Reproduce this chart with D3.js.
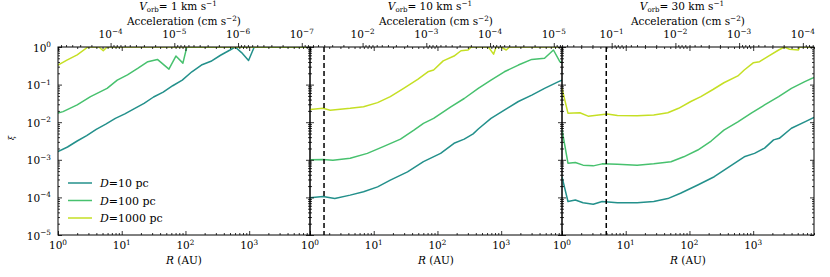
<!DOCTYPE html>
<html>
<head>
<meta charset="utf-8">
<script src="https://cdn.jsdelivr.net/npm/d3@7"></script>
<style>
  body { margin: 0; background: #fff; }
  text { font-family: "DejaVu Serif", serif; fill: #000; }
</style>
</head>
<body>
<div id="chart"></div>
<script>
// orbital velocity of each panel (km/s) and radius of the dashed marker (AU)
const velocities = [1, 10, 30];
const dashedR = [null, 1.66, 4.95];
const distances = ["10", "100", "1000"];
const colors = ["#23908b", "#47c16e", "#c5df24"];

const rTicks = [1, 10, 100, 1000];
const xiTicks = [1, 1e-1, 1e-2, 1e-3, 1e-4, 1e-5];
const accelExps = [[-4, -5, -6, -7], [-2, -3, -4, -5], [-1, -2, -3, -4]];

// [R (AU), xi]
const v1_d10 = [[1, 1.66e-3], [1.41, 2.19e-3], [2.0, 3.16e-3], [2.82, 4.37e-3], [3.98, 6.46e-3], [5.62, 8.91e-3],
  [7.94, 0.0126], [11.2, 0.0166], [15.8, 0.0229], [22.4, 0.0316], [31.6, 0.0468], [44.7, 0.0631], [63.1, 0.0933],
  [89.1, 0.132], [126, 0.219], [178, 0.331], [251, 0.417], [355, 0.603], [501, 0.832], [603, 1], [759, 0.71],
  [977, 0.437], [1200, 1], [9000, 1]];
const v1_d100 = [[1, 0.0174], [1.2, 0.0191], [2.0, 0.0288], [3.24, 0.0479], [5.89, 0.0794], [8.51, 0.132],
  [12.3, 0.182], [17.8, 0.269], [25.7, 0.407], [36.3, 0.468], [55.0, 0.257], [70.8, 0.575], [91.2, 0.372],
  [105, 1], [9000, 1]];
const v1_d1000 = [[1, 0.331], [1.38, 0.447], [2.0, 0.617], [2.95, 1], [4.37, 1], [5.13, 0.794], [5.89, 1], [9000, 1]];

const v10_d10 = [[1, 9.8e-5], [1.6, 1.05e-4], [2.45, 9.3e-5], [4.27, 1.15e-4], [6.92, 1.41e-4], [11.5, 1.91e-4],
  [18.2, 2.88e-4], [33.9, 4.79e-4], [60.3, 8.91e-4], [112, 1.48e-3], [182, 2.75e-3], [263, 3.55e-3], [363, 4.9e-3],
  [437, 6.6e-3], [692, 0.0126], [1120, 0.0209], [1860, 0.0355], [3020, 0.0525], [4790, 0.0794], [7940, 0.120],
  [9000, 0.132]];
const v10_d100 = [[1, 1.0e-3], [1.6, 1.02e-3], [2.29, 9.8e-4], [4.27, 1.1e-3], [7.94, 1.48e-3], [14.1, 2.24e-3],
  [26.3, 3.55e-3], [42.7, 6.17e-3], [60.3, 9.33e-3], [87.1, 0.0126], [162, 0.0257], [263, 0.0427], [437, 0.0794],
  [692, 0.132], [1120, 0.219], [1860, 0.331], [3020, 0.468], [4790, 0.501], [6610, 0.832], [8320, 0.407],
  [9000, 0.389]];
const v10_d1000 = [[1, 0.0219], [1.6, 0.0234], [2.07, 0.0209], [4.27, 0.0234], [6.92, 0.0257], [11.5, 0.0331],
  [18.2, 0.0479], [29.5, 0.0794], [49.0, 0.138], [70.8, 0.219], [87.1, 0.245], [123, 0.427], [182, 0.575],
  [234, 0.794], [302, 0.832], [339, 1], [631, 1], [759, 0.646], [832, 1], [1000, 1], [1200, 0.832], [1350, 1],
  [9000, 1]];

const v30_d10 = [[1, 3.5e-4], [1.24, 7.8e-5], [1.62, 8.5e-5], [2.14, 7.2e-5], [3.09, 6.6e-5], [4.27, 7.8e-5],
  [7.41, 7.2e-5], [15.1, 7.2e-5], [27.5, 7.8e-5], [45.7, 9.3e-5], [72.4, 1.29e-4], [135, 2.14e-4], [245, 3.55e-4],
  [407, 6.3e-4], [724, 1.2e-3], [1050, 1.48e-3], [1510, 2.04e-3], [2090, 3.39e-3], [2570, 3.72e-3],
  [3980, 6.9e-3], [6460, 0.0102], [9000, 0.0135]];
const v30_d100 = [[1, 6.3e-3], [1.24, 8.1e-4], [1.62, 8.5e-4], [2.14, 7.2e-4], [3.09, 6.9e-4], [4.27, 7.8e-4],
  [7.41, 7.6e-4], [15.1, 7.2e-4], [27.5, 7.8e-4], [51.3, 8.9e-4], [81.3, 1.2e-3], [135, 1.82e-3], [219, 3.16e-3],
  [347, 6.17e-3], [575, 0.0102], [933, 0.0174], [1510, 0.0288], [2510, 0.0479], [3980, 0.0794], [6460, 0.120],
  [9000, 0.155]];
const v30_d1000 = [[1, 0.0794], [1.24, 0.0174], [1.91, 0.0178], [2.57, 0.0145], [5.13, 0.0166], [7.41, 0.0151],
  [15.1, 0.0148], [27.5, 0.0155], [45.7, 0.0178], [67.6, 0.0234], [105, 0.0355], [151, 0.0479], [234, 0.0741],
  [347, 0.112], [575, 0.170], [724, 0.245], [1000, 0.380], [1260, 0.407], [1740, 0.575], [2510, 0.832],
  [3090, 1], [3720, 0.871], [5130, 0.832], [5370, 1], [9000, 1]];

const panelSeries = [
  [v1_d10, v1_d100, v1_d1000],
  [v10_d10, v10_d100, v10_d1000],
  [v30_d10, v30_d100, v30_d1000]
];

const W = 830, H = 277;
const marginLeft = 58, marginTop = 47, pw = 252, ph = 188;
const rMax = 9000;
const accel1AU = 6.685e-4; // cm s^-2 for V = 1 km/s at R = 1 AU
const fs = 10.5, tickFs = 10.5, supFs = 7.3;

const svg = d3.select("#chart").append("svg")
    .attr("width", W)
    .attr("height", H);

svg.append("rect").attr("width", W).attr("height", H).attr("fill", "#fff");

let x = d3.scaleLog().domain([1, rMax]).range([0, pw]);
let y = d3.scaleLog().domain([1e-5, 1]).range([ph, 0]);

let notDecade = d => Math.abs(Math.log10(d) - Math.round(Math.log10(d))) > 1e-6;

// "10" with a superscript exponent
let powLabel = function (sel, exp) {
    sel.each(function (e) {
        let t = d3.select(this);
        let ex = exp(e);
        t.append("tspan").text("10");
        t.append("tspan")
            .attr("dy", -4.5)
            .attr("font-size", supFs)
            .text(ex < 0 ? "\u2212" + (-ex) : ex);
    });
};

let line = d3.line()
    .x(d => x(d[0]))
    .y(d => y(d[1]));

velocities.forEach(function (v, i) {
    let g = svg.append("g")
        .attr("transform", "translate(" + (marginLeft + i * pw) + "," + marginTop + ")");

    g.append("defs").append("clipPath")
        .attr("id", "clip" + i)
        .append("rect")
        .attr("width", pw)
        .attr("height", ph);

    let plot = g.append("g").attr("clip-path", "url(#clip" + i + ")");

    panelSeries[i].forEach(function (s, k) {
        plot.append("path")
            .datum(s)
            .attr("fill", "none")
            .attr("stroke", colors[k])
            .attr("stroke-width", 1.5)
            .attr("stroke-linejoin", "round")
            .attr("d", line);
    });

    if (dashedR[i]) {
        plot.append("line")
            .attr("x1", x(dashedR[i])).attr("x2", x(dashedR[i]))
            .attr("y1", 0).attr("y2", ph)
            .attr("stroke", "#000")
            .attr("stroke-width", 1.5)
            .attr("stroke-dasharray", "5,3");
    }

    // acceleration axis on top: a = V^2 / R
    let a = d3.scaleLog()
        .domain([accel1AU * v * v, accel1AU * v * v / rMax])
        .range([0, pw]);
    let aMajor = accelExps[i].map(e => Math.pow(10, e));
    let aMinor = a.ticks().filter(notDecade);
    let xMinor = x.ticks().filter(notDecade);
    let yMinor = y.ticks().filter(notDecade);

    let axes = g.append("g");
    let addAxis = function (axis, tr) {
        let ag = axes.append("g").attr("transform", tr || null).call(axis.tickFormat("").tickSizeOuter(0));
        ag.select(".domain").remove();
        ag.selectAll("line").attr("stroke", "#000").attr("stroke-width", 0.8);
    };
    addAxis(d3.axisBottom(x).tickValues(rTicks).tickSize(-4), "translate(0," + ph + ")");
    addAxis(d3.axisBottom(x).tickValues(xMinor).tickSize(-2), "translate(0," + ph + ")");
    addAxis(d3.axisTop(x).tickValues(rTicks).tickSize(-4));
    addAxis(d3.axisTop(x).tickValues(xMinor).tickSize(-2));
    addAxis(d3.axisTop(a).tickValues(aMajor).tickSize(4));
    addAxis(d3.axisTop(a).tickValues(aMinor).tickSize(2));
    addAxis(d3.axisLeft(y).tickValues(xiTicks).tickSize(-4));
    addAxis(d3.axisLeft(y).tickValues(yMinor).tickSize(-2));
    addAxis(d3.axisRight(y).tickValues(xiTicks).tickSize(-4), "translate(" + pw + ",0)");
    addAxis(d3.axisRight(y).tickValues(yMinor).tickSize(-2), "translate(" + pw + ",0)");

    g.append("rect")
        .attr("width", pw)
        .attr("height", ph)
        .attr("fill", "none")
        .attr("stroke", "#000")
        .attr("stroke-width", 1);

    // bottom tick labels
    g.selectAll(".rlab")
        .data(rTicks)
        .enter().append("text")
        .attr("class", "rlab")
        .attr("x", d => x(d))
        .attr("y", ph + 14)
        .attr("text-anchor", "middle")
        .attr("font-size", tickFs)
        .call(powLabel, d => Math.round(Math.log10(d)));

    // top tick labels
    g.selectAll(".alab")
        .data(aMajor)
        .enter().append("text")
        .attr("class", "alab")
        .attr("x", d => a(d))
        .attr("y", -9)
        .attr("text-anchor", "middle")
        .attr("font-size", tickFs)
        .call(powLabel, d => Math.round(Math.log10(d)));

    if (i === 0) {
        g.selectAll(".ylab")
            .data(xiTicks)
            .enter().append("text")
            .attr("class", "ylab")
            .attr("x", -7)
            .attr("y", d => y(d) + 4.5)
            .attr("text-anchor", "end")
            .attr("font-size", tickFs)
            .call(powLabel, d => Math.round(Math.log10(d)));
    }

    let xl = g.append("text")
        .attr("x", pw / 2)
        .attr("y", ph + 29)
        .attr("text-anchor", "middle")
        .attr("font-size", fs);
    xl.append("tspan").attr("font-style", "italic").text("R");
    xl.append("tspan").text(" (AU)");

    let al = g.append("text")
        .attr("x", pw / 2)
        .attr("y", -22)
        .attr("text-anchor", "middle")
        .attr("font-size", fs);
    al.append("tspan").text("Acceleration (cm s");
    al.append("tspan").attr("dy", -4).attr("font-size", supFs).text("\u22122");
    al.append("tspan").attr("dy", 4).text(")");

    let tl = g.append("text")
        .attr("x", pw / 2 - 6)
        .attr("y", -37)
        .attr("text-anchor", "middle")
        .attr("font-size", fs);
    tl.append("tspan").attr("font-style", "italic").text("V");
    tl.append("tspan").attr("dy", 2).attr("font-size", 7).text("orb");
    tl.append("tspan").attr("dy", -2).text("= " + v + " km s");
    tl.append("tspan").attr("dy", -4).attr("font-size", supFs).text("\u22121");

    if (i === 0) {
        let leg = g.append("g").attr("transform", "translate(10,136)");
        distances.forEach(function (d, k) {
            let row = leg.append("g").attr("transform", "translate(0," + (k * 17.5) + ")");
            row.append("line")
                .attr("x1", 0).attr("x2", 24)
                .attr("stroke", colors[k])
                .attr("stroke-width", 1.5);
            let t = row.append("text")
                .attr("x", 32)
                .attr("y", 4)
                .attr("font-size", 11);
            t.append("tspan").attr("font-style", "italic").text("D");
            t.append("tspan").text("=" + d + " pc");
        });
    }
});

svg.append("text")
    .attr("transform", "translate(14," + (marginTop + ph / 2 - 3) + ") rotate(-90)")
    .attr("text-anchor", "middle")
    .attr("font-size", 8)
    .attr("font-style", "italic")
    .text("\u03be");
</script>
</body>
</html>
